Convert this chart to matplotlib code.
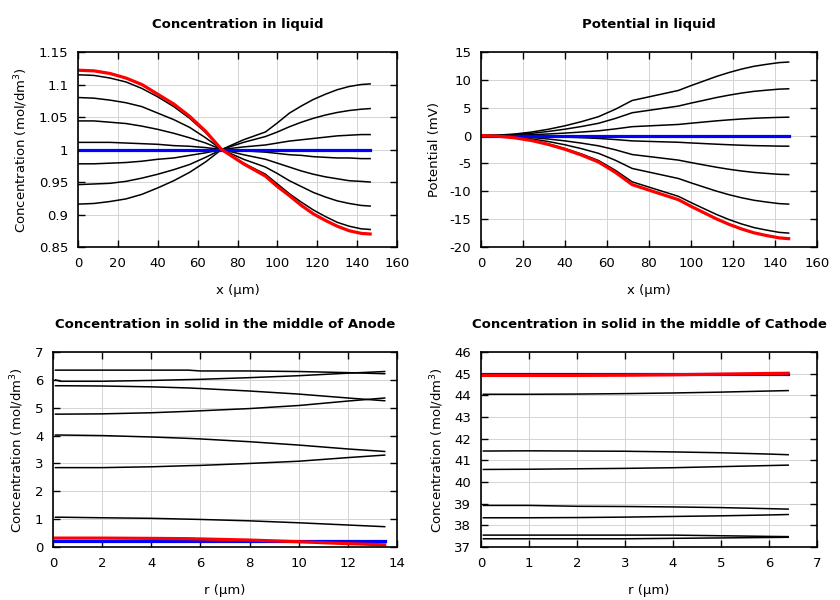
import matplotlib
matplotlib.use("Agg")
import matplotlib.pyplot as plt

plt.rcParams['font.family'] = ['DejaVu Sans']
plt.rcParams['font.size'] = 9

# --- liquid concentration / potential along cell thickness ---
x_liq = [0, 8, 16, 24, 32, 40, 48, 56, 64, 72, 83, 94, 100, 106, 112, 118, 124, 130, 136, 142, 146.5]

conc_liq_black = [
    [1.115, 1.114, 1.110, 1.104, 1.094, 1.081, 1.066, 1.048, 1.026, 1.000, 0.979, 0.962, 0.947, 0.932, 0.919, 0.907, 0.897, 0.888, 0.882, 0.878, 0.877],
    [1.080, 1.079, 1.076, 1.072, 1.066, 1.056, 1.046, 1.034, 1.018, 1.000, 0.985, 0.973, 0.963, 0.952, 0.943, 0.934, 0.927, 0.921, 0.917, 0.914, 0.913],
    [1.044, 1.044, 1.042, 1.040, 1.036, 1.031, 1.025, 1.018, 1.010, 1.000, 0.992, 0.985, 0.979, 0.973, 0.967, 0.962, 0.958, 0.955, 0.952, 0.951, 0.950],
    [1.011, 1.011, 1.011, 1.010, 1.009, 1.008, 1.006, 1.005, 1.003, 1.000, 0.998, 0.996, 0.994, 0.992, 0.991, 0.989, 0.988, 0.987, 0.987, 0.986, 0.986],
    [0.978, 0.978, 0.979, 0.980, 0.982, 0.985, 0.987, 0.991, 0.995, 1.000, 1.004, 1.007, 1.010, 1.013, 1.015, 1.017, 1.019, 1.021, 1.022, 1.023, 1.023],
    [0.946, 0.947, 0.948, 0.951, 0.956, 0.962, 0.969, 0.977, 0.988, 1.000, 1.011, 1.020, 1.027, 1.035, 1.042, 1.048, 1.053, 1.057, 1.060, 1.062, 1.063],
    [0.916, 0.917, 0.920, 0.924, 0.931, 0.941, 0.952, 0.965, 0.981, 1.000, 1.015, 1.027, 1.041, 1.056, 1.067, 1.077, 1.085, 1.092, 1.097, 1.100, 1.101],
]
conc_liq_init = [1.0] * len(x_liq)
conc_liq_final = [1.122, 1.121, 1.117, 1.110, 1.100, 1.085, 1.070, 1.051, 1.028, 1.000, 0.978, 0.959, 0.943, 0.929, 0.914, 0.901, 0.891, 0.882, 0.875, 0.871, 0.870]

pot_liq_black = [
    [0, -0.10, -0.37, -0.83, -1.49, -2.32, -3.32, -4.48, -6.23, -8.30, -9.60, -10.90, -12.02, -13.08, -14.13, -15.06, -15.85, -16.51, -16.97, -17.37, -17.50],
    [0, -0.07, -0.27, -0.59, -1.06, -1.65, -2.36, -3.19, -4.43, -5.90, -6.80, -7.70, -8.48, -9.22, -9.95, -10.60, -11.15, -11.61, -11.93, -12.21, -12.30],
    [0, -0.04, -0.15, -0.34, -0.61, -0.95, -1.36, -1.84, -2.55, -3.40, -3.90, -4.40, -4.84, -5.26, -5.67, -6.04, -6.35, -6.61, -6.79, -6.95, -7.00],
    [0, -0.01, -0.04, -0.10, -0.17, -0.27, -0.38, -0.51, -0.71, -0.95, -1.08, -1.20, -1.32, -1.43, -1.54, -1.64, -1.73, -1.80, -1.84, -1.89, -1.90],
    [0, 0.02, 0.07, 0.16, 0.29, 0.45, 0.64, 0.86, 1.20, 1.60, 1.80, 2.00, 2.22, 2.43, 2.64, 2.82, 2.98, 3.11, 3.20, 3.27, 3.30],
    [0, 0.05, 0.18, 0.41, 0.74, 1.15, 1.64, 2.21, 3.08, 4.10, 4.70, 5.30, 5.83, 6.32, 6.82, 7.25, 7.63, 7.94, 8.15, 8.34, 8.40],
    [0, 0.08, 0.28, 0.63, 1.13, 1.76, 2.52, 3.40, 4.73, 6.30, 7.20, 8.10, 8.97, 9.78, 10.60, 11.31, 11.93, 12.44, 12.79, 13.10, 13.20],
]
pot_liq_init = [0.0] * len(x_liq)
pot_liq_final = [0, -0.11, -0.40, -0.88, -1.58, -2.46, -3.52, -4.75, -6.60, -8.80, -10.15, -11.50, -12.69, -13.81, -14.93, -15.91, -16.75, -17.45, -17.94, -18.36, -18.50]

# --- solid concentration along particle radius ---
r_an = [0.1, 0.3, 2, 4, 5.5, 6, 8, 10, 12, 13.5]
conc_an_black = [
    [6.35, 6.35, 6.35, 6.35, 6.35, 6.32, 6.32, 6.30, 6.26, 6.22],
    [6.00, 5.95, 5.95, 5.98, 6.01, 6.02, 6.08, 6.15, 6.24, 6.30],
    [5.79, 5.79, 5.78, 5.75, 5.71, 5.69, 5.60, 5.49, 5.35, 5.25],
    [4.77, 4.77, 4.78, 4.82, 4.87, 4.89, 4.97, 5.08, 5.24, 5.35],
    [4.02, 4.02, 4.00, 3.95, 3.90, 3.88, 3.78, 3.66, 3.52, 3.43],
    [2.85, 2.85, 2.85, 2.88, 2.92, 2.93, 3.00, 3.08, 3.21, 3.30],
    [1.07, 1.07, 1.05, 1.03, 1.00, 0.99, 0.94, 0.87, 0.79, 0.73],
]
conc_an_init = [0.22] * len(r_an)
conc_an_final = [0.32, 0.32, 0.32, 0.31, 0.30, 0.29, 0.25, 0.19, 0.12, 0.08]

r_ca = [0.05, 1, 2, 3, 4, 5, 6, 6.4]
conc_ca_black = [
    [44.05, 44.05, 44.06, 44.08, 44.11, 44.15, 44.20, 44.22],
    [41.43, 41.44, 41.43, 41.42, 41.39, 41.35, 41.29, 41.26],
    [40.58, 40.59, 40.61, 40.63, 40.66, 40.71, 40.76, 40.78],
    [38.92, 38.92, 38.88, 38.87, 38.85, 38.82, 38.77, 38.75],
    [38.35, 38.35, 38.36, 38.38, 38.41, 38.44, 38.48, 38.50],
    [37.55, 37.55, 37.55, 37.55, 37.55, 37.52, 37.49, 37.48],
    [37.38, 37.38, 37.38, 37.38, 37.40, 37.42, 37.44, 37.45],
]
conc_ca_init = [45.0] * len(r_ca)
conc_ca_final = [44.92, 44.92, 44.92, 44.93, 44.95, 44.98, 45.01, 45.02]

conc_label = 'Concentration (mol/dm$^3$)'

panels = [
    dict(rect=[0.0929, 0.5883, 0.3798, 0.325], title='Concentration in liquid',
         x=x_liq, black=conc_liq_black, init=conc_liq_init, final=conc_liq_final,
         xlim=(0, 160), xstep=20, ylim=(0.85, 1.15), ystep=0.05,
         xlabel='x (µm)', ylabel=conc_label),
    dict(rect=[0.5726, 0.5883, 0.4, 0.325], title='Potential in liquid',
         x=x_liq, black=pot_liq_black, init=pot_liq_init, final=pot_liq_final,
         xlim=(0, 160), xstep=20, ylim=(-20, 15), ystep=5,
         xlabel='x (µm)', ylabel='Potential (mV)'),
    dict(rect=[0.0631, 0.0883, 0.4095, 0.325], title='Concentration in solid in the middle of Anode',
         x=r_an, black=conc_an_black, init=conc_an_init, final=conc_an_final,
         xlim=(0, 14), xstep=2, ylim=(0, 7), ystep=1,
         xlabel='r (µm)', ylabel=conc_label),
    dict(rect=[0.5726, 0.0883, 0.4, 0.325], title='Concentration in solid in the middle of Cathode',
         x=r_ca, black=conc_ca_black, init=conc_ca_init, final=conc_ca_final,
         xlim=(0, 7), xstep=1, ylim=(37, 46), ystep=1,
         xlabel='r (µm)', ylabel=conc_label),
]

fig = plt.figure(figsize=(8.4, 6), dpi=100)

for p in panels:
    ax = fig.add_axes(p['rect'])
    for ys in p['black']:
        ax.plot(p['x'], ys, color='black', lw=1.1)
    ax.plot(p['x'], p['init'], color='#0000ff', lw=2.3)
    ax.plot(p['x'], p['final'], color='#ff0000', lw=2.3)

    ax.set_xlim(*p['xlim'])
    ax.set_ylim(*p['ylim'])
    n = int(round((p['xlim'][1] - p['xlim'][0]) / p['xstep']))
    ax.set_xticks([p['xlim'][0] + i * p['xstep'] for i in range(n + 1)])
    m = int(round((p['ylim'][1] - p['ylim'][0]) / p['ystep']))
    yt = [round(p['ylim'][0] + i * p['ystep'], 3) for i in range(m + 1)]
    ax.set_yticks(yt)
    ax.set_yticklabels(['{:g}'.format(v) for v in yt])

    ax.tick_params(direction='in', top=True, right=True, length=5, width=1, labelsize=9.5, pad=7)
    ax.grid(True, color='#d4d4d4', lw=0.7)
    ax.set_axisbelow(True)
    for s in ax.spines.values():
        s.set_linewidth(1.2)

    ax.set_title(p['title'], fontsize=9.5, fontweight='bold', pad=17)
    ax.set_xlabel(p['xlabel'], fontsize=9.5, labelpad=10)
    ax.set_ylabel(p['ylabel'], fontsize=9.5, labelpad=6)

fig.savefig('out.png', dpi=100)
